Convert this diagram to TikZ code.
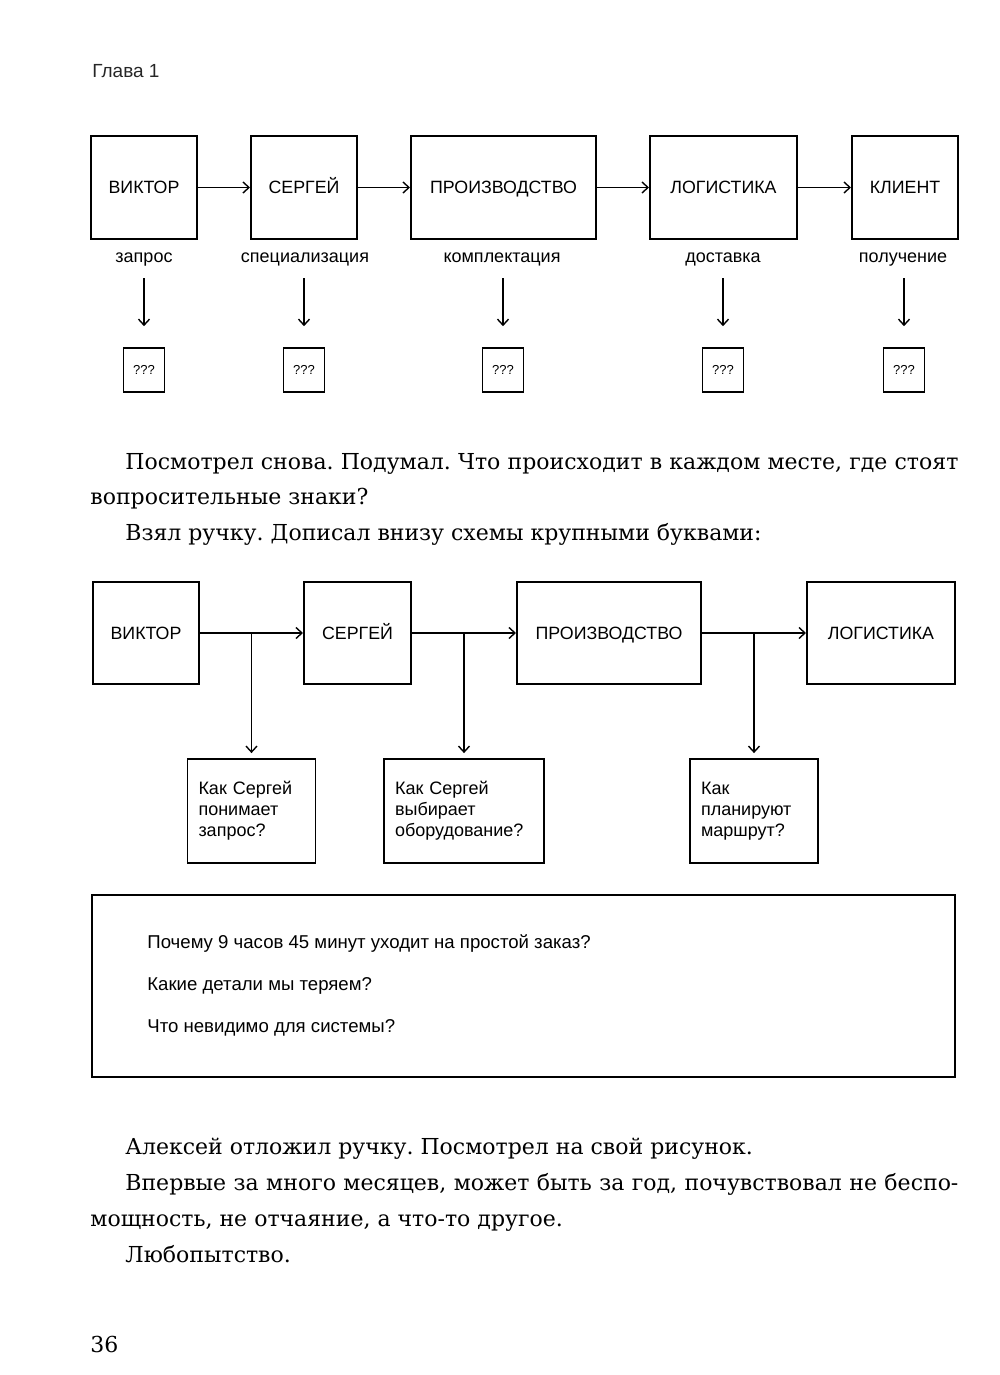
\documentclass[tikz,border=0pt]{standalone}
\usepackage{fontspec}
\setmainfont{DejaVu Serif}
\setsansfont{Liberation Sans}
\usetikzlibrary{calc,arrows.meta}
\frenchspacing

\begin{document}
\begin{tikzpicture}[x=0.5pt,y=-0.5pt,>={Straight Barb[length=3pt,width=5.5pt]},
  actor/.style={draw,line width=1pt,minimum height=51.5pt,inner sep=0pt,text height=6.4pt,text depth=0pt,font=\sffamily\fontsize{8.9}{10}\selectfont},
  stagelabel/.style={anchor=base,inner sep=0pt,text depth=2pt,font=\sffamily\fontsize{9}{10}\selectfont},
  qmark/.style={draw,line width=.8pt,minimum width=20.5pt,minimum height=22pt,inner sep=0pt,font=\sffamily\fontsize{6.5}{7}\selectfont},
  askbox/.style={draw,line width=.9pt,minimum height=52pt,inner sep=6pt,align=left,font=\sffamily\fontsize{9}{10.5}\selectfont},
  flow/.style={->,line width=.7pt},
  prose/.style={anchor=base west,inner sep=0pt,font=\fontsize{11}{13}\selectfont}]
\useasboundingbox (0,0) rectangle (1000,1375);
\node[anchor=base west,inner sep=0pt,text=black!85,font=\sffamily\fontsize{9.5}{11}\selectfont] (chapter) at (92,78) {Глава 1};
% first scheme
\node[actor,minimum width=53pt] (viktor) at (144,187.5) {ВИКТОР};
\node[actor,minimum width=53pt] (sergey) at (304,187.5) {СЕРГЕЙ};
\node[actor,minimum width=92.5pt] (proizv) at (503.5,187.5) {ПРОИЗВОДСТВО};
\node[actor,minimum width=73.5pt] (logist) at (723.5,187.5) {ЛОГИСТИКА};
\node[actor,minimum width=53pt] (client) at (905,187.5) {КЛИЕНТ};
\draw[flow] (viktor) -- (sergey);
\draw[flow] (sergey) -- (proizv);
\draw[flow] (proizv) -- (logist);
\draw[flow] (logist) -- (client);
\node[stagelabel] (zapros) at (144,263) {запрос};
\node[stagelabel] (spec) at (305,263) {специализация};
\node[stagelabel] (kompl) at (502,263) {комплектация};
\node[stagelabel] (dost) at (723,263) {доставка};
\node[stagelabel] (poluch) at (903,263) {получение};
\node[qmark] (q1) at (144,370) {???};
\node[qmark] (q2) at (304,370) {???};
\node[qmark] (q3) at (503,370) {???};
\node[qmark] (q4) at (723,370) {???};
\node[qmark] (q5) at (904,370) {???};
\draw[flow,shorten <=5.5pt,shorten >=10.5pt] (zapros) -- (q1);
\draw[flow,shorten <=5.5pt,shorten >=10.5pt] (spec.south -| q2) -- (q2);
\draw[flow,shorten <=5.5pt,shorten >=10.5pt] (kompl.south -| q3) -- (q3);
\draw[flow,shorten <=5.5pt,shorten >=10.5pt] (dost) -- (q4);
\draw[flow,shorten <=5.5pt,shorten >=10.5pt] (poluch.south -| q5) -- (q5);
% text between
\node[prose] (p1) at (125,469) {\hbox to 416.5pt{Посмотрел снова. Подумал. Что происходит в каждом месте, где стоят}};
\node[prose] (p2) at (90,504.5) {вопросительные знаки?};
\node[prose] (p3) at (125,540) {Взял ручку. Дописал внизу схемы крупными буквами:};
% second scheme
\node[actor,minimum width=53pt,minimum height=51pt] (viktor2) at (146,633) {ВИКТОР};
\node[actor,minimum width=53.5pt,minimum height=51pt] (sergey2) at (357.5,633) {СЕРГЕЙ};
\node[actor,minimum width=92pt,minimum height=51pt] (proizv2) at (609,633) {ПРОИЗВОДСТВО};
\node[actor,minimum width=74pt,minimum height=51pt] (logist2) at (881,633) {ЛОГИСТИКА};
\draw[flow] (viktor2) -- (sergey2);
\draw[flow] (sergey2) -- (proizv2);
\draw[flow] (proizv2) -- (logist2);
\node[askbox,minimum width=64pt,text width=53pt,inner xsep=5.5pt] (ask1) at (251.5,811) {Как Сергей\\понимает\\запрос?};
\node[askbox,minimum width=80pt,text width=69pt,inner xsep=5.5pt] (ask2) at (464,811) {Как Сергей\\выбирает\\оборудование?};
\node[askbox,minimum width=64pt,text width=53pt,inner xsep=5.5pt] (ask3) at (754,811) {Как\\планируют\\маршрут?};
\draw[flow,shorten >=2.5pt] ($(viktor2.east)!.5!(sergey2.west)$) coordinate (m1) -- (m1 |- ask1.north);
\draw[flow,shorten >=2.5pt] ($(sergey2.east)!.5!(proizv2.west)$) coordinate (m2) -- (m2 |- ask2.north);
\draw[flow,shorten >=2.5pt] ($(proizv2.east)!.5!(logist2.west)$) coordinate (m3) -- (m3 |- ask3.north);
% big frame
\node[draw,line width=.9pt,minimum width=431.5pt,minimum height=91pt] (frame) at (523.5,986) {};
\node[anchor=base west,inner sep=0pt,font=\sffamily\fontsize{9.3}{10}\selectfont] (why1) at (147,948) {Почему 9 часов 45 минут уходит на простой заказ?};
\node[anchor=base west,inner sep=0pt,font=\sffamily\fontsize{9.3}{10}\selectfont] (why2) at (147,990) {Какие детали мы теряем?};
\node[anchor=base west,inner sep=0pt,font=\sffamily\fontsize{9.3}{10}\selectfont] (why3) at (147,1032) {Что невидимо для системы?};
% text after
\node[prose] (p4) at (125,1154) {Алексей отложил ручку. Посмотрел на свой рисунок.};
\node[prose] (p5) at (125,1190) {\hbox to 416.5pt{Впервые за много месяцев, может быть за год, почувствовал не беспо-}};
\node[prose] (p6) at (90,1226) {мощность, не отчаяние, а что-то другое.};
\node[prose] (p7) at (125,1262) {Любопытство.};
\node[prose] (pagenum) at (90,1352) {36};
\end{tikzpicture}
\end{document}
